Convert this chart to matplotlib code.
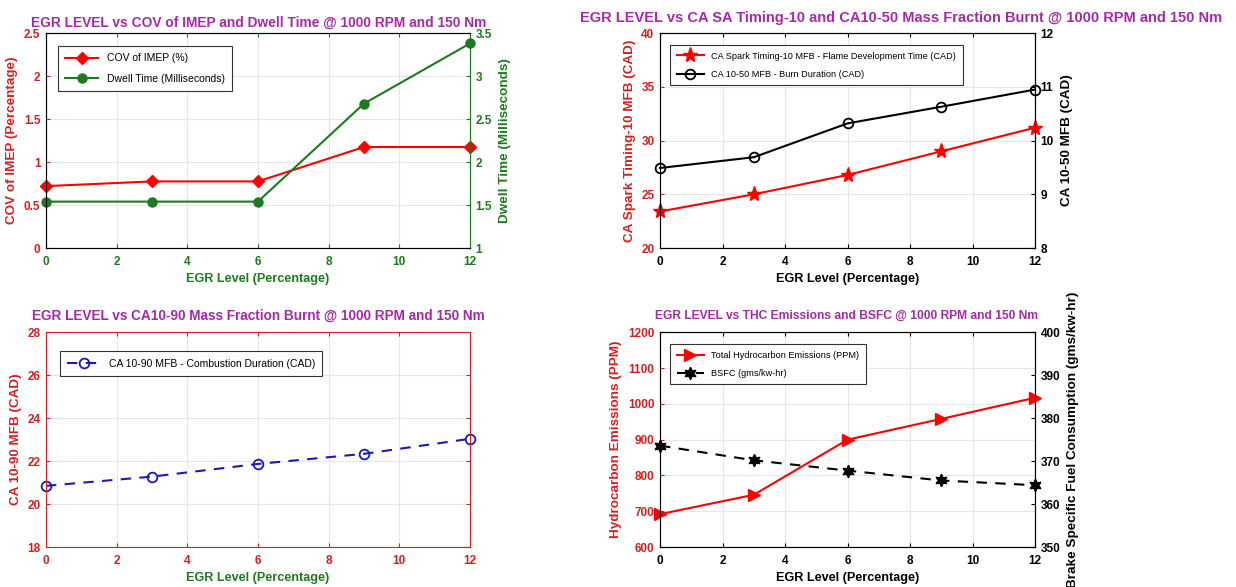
import matplotlib
matplotlib.use("Agg")
from matplotlib import pyplot as plt

plt.rcParams['font.family'] = ['Liberation Sans', 'DejaVu Sans']

# data
egr = [0, 3, 6, 9, 12]
cov_imep = [0.72, 0.775, 0.775, 1.175, 1.175]
dwell_ms = [1.54, 1.54, 1.54, 2.68, 3.38]
spark_10 = [23.4, 25.0, 26.8, 29.0, 31.2]
burn_10_50 = [9.49, 9.69, 10.32, 10.63, 10.95]
comb_10_90 = [20.85, 21.28, 21.87, 22.34, 23.04]
thc_ppm = [692, 746, 900, 958, 1017]
bsfc = [373.6, 370.2, 367.8, 365.5, 364.4]

RED = '#d42020'
GREEN = '#1e7a1e'
PURPLE = '#a52aa5'
TICK_FS = 8.5
XLAB_FS = 9.1
YLAB_FS = 9.7

fig = plt.figure(figsize=(12.36, 5.87), dpi=100)


def style_axes(ax, x_color, left_color, spine_color):
    ax.set_xlim(0, 12)
    ax.set_xticks(range(0, 13, 2))
    ax.grid(True, color='#e6e6e6', linewidth=0.8)
    ax.set_axisbelow(True)
    ax.tick_params(direction='in', top=True, length=3, labelsize=TICK_FS, pad=6)
    ax.tick_params(axis='x', colors=x_color)
    ax.tick_params(axis='y', colors=left_color, pad=4)
    for lab in ax.get_xticklabels() + ax.get_yticklabels():
        lab.set_fontweight('bold')
    for name, sp in ax.spines.items():
        sp.set_color(spine_color)
    ax.spines['left'].set_color(left_color)


def style_right(ax2, color):
    ax2.tick_params(direction='in', length=3, labelsize=TICK_FS, colors=color, pad=4)
    for lab in ax2.get_yticklabels():
        lab.set_fontweight('bold')
    ax2.spines['right'].set_color(color)


def legend(ax, handles, loc_anchor, fs, hl):
    leg = ax.legend(handles=handles, loc='upper left', bbox_to_anchor=loc_anchor,
                    fontsize=fs, fancybox=False, framealpha=1,
                    edgecolor='#333333', handlelength=hl, borderpad=0.7,
                    labelspacing=1.0)
    leg.get_frame().set_linewidth(0.8)
    return leg


# ---- top left ----
ax1 = fig.add_axes([0.0372, 0.5775, 0.343, 0.366])
l1, = ax1.plot(egr, cov_imep, color='red', marker='D', markersize=6.3,
               linewidth=1.5, clip_on=False, zorder=3, label='COV of IMEP (%)')
ax1.set_ylim(0, 2.5)
ax1.set_yticks([0, 0.5, 1, 1.5, 2, 2.5])
ax1.set_yticklabels(['0', '0.5', '1', '1.5', '2', '2.5'])
style_axes(ax1, GREEN, RED, GREEN)
ax1.set_xlabel('EGR Level (Percentage)', color=GREEN, fontsize=XLAB_FS,
               fontweight='bold', labelpad=3)
ax1.set_ylabel('COV of IMEP (Percentage)', color=RED, fontsize=YLAB_FS,
               fontweight='bold', labelpad=4)
ax1b = ax1.twinx()
l2, = ax1b.plot(egr, dwell_ms, color=GREEN, marker='o', markersize=6.5,
                linewidth=1.5, clip_on=False, label='Dwell Time (Milliseconds)')
ax1b.set_ylim(1, 3.5)
ax1b.set_yticks([1, 1.5, 2, 2.5, 3, 3.5])
ax1b.set_yticklabels(['1', '1.5', '2', '2.5', '3', '3.5'])
style_right(ax1b, GREEN)
ax1b.set_ylabel('Dwell Time (Milliseconds)', color=GREEN, fontsize=YLAB_FS,
                fontweight='bold', labelpad=5)
legend(ax1, [l1, l2], (0.015, 0.965), 7.5, 3.2)
fig.text(0.209, 0.962, 'EGR LEVEL vs COV of IMEP and Dwell Time @ 1000 RPM and 150 Nm',
         ha='center', va='center', color=PURPLE, fontsize=9.9, fontweight='bold')

# ---- top right ----
ax2 = fig.add_axes([0.534, 0.5775, 0.3034, 0.366])
l3, = ax2.plot(egr, spark_10, color='red', marker='*', markersize=11,
               linewidth=1.5, clip_on=False, zorder=3,
               label='CA Spark Timing-10 MFB - Flame Development Time (CAD)')
ax2.set_ylim(20, 40)
ax2.set_yticks(range(20, 41, 5))
style_axes(ax2, 'black', RED, 'black')
ax2.set_xlabel('EGR Level (Percentage)', color='black', fontsize=XLAB_FS,
               fontweight='bold', labelpad=3)
ax2.set_ylabel('CA Spark Timing-10 MFB (CAD)', color=RED, fontsize=YLAB_FS,
               fontweight='bold', labelpad=4)
ax2b = ax2.twinx()
l4, = ax2b.plot(egr, burn_10_50, color='black', marker='o', markersize=7,
                markerfacecolor='none', markeredgewidth=1.3, linewidth=1.5,
                clip_on=False, label='CA 10-50 MFB - Burn Duration (CAD)')
ax2b.set_ylim(8, 12)
ax2b.set_yticks(range(8, 13))
style_right(ax2b, 'black')
ax2b.set_ylabel('CA 10-50 MFB (CAD)', color='black', fontsize=YLAB_FS,
                fontweight='bold', labelpad=5)
legend(ax2, [l3, l4], (0.015, 0.965), 6.6, 3.0)
fig.text(0.729, 0.97, 'EGR LEVEL vs CA SA Timing-10 and CA10-50 Mass Fraction Burnt @ 1000 RPM and 150 Nm',
         ha='center', va='center', color=PURPLE, fontsize=10.5, fontweight='bold')

# ---- bottom left ----
ax3 = fig.add_axes([0.0372, 0.068, 0.343, 0.366])
l5, = ax3.plot(egr, comb_10_90, color='#1a1ab4', marker='o', markersize=7,
               markerfacecolor='none', markeredgewidth=1.3, linewidth=1.5,
               linestyle=(0, (5, 4)), clip_on=False,
               label='CA 10-90 MFB - Combustion Duration (CAD)')
ax3.set_ylim(18, 28)
ax3.set_yticks(range(18, 29, 2))
style_axes(ax3, RED, RED, RED)
ax3.tick_params(right=True, direction='in')
ax3.set_xlabel('EGR Level (Percentage)', color=GREEN, fontsize=XLAB_FS,
               fontweight='bold', labelpad=3)
ax3.set_ylabel('CA 10-90 MFB (CAD)', color=RED, fontsize=YLAB_FS,
               fontweight='bold', labelpad=4)
legend(ax3, [l5], (0.02, 0.935), 7.5, 3.2)
fig.text(0.209, 0.462, 'EGR LEVEL vs CA10-90 Mass Fraction Burnt @ 1000 RPM and 150 Nm',
         ha='center', va='center', color=PURPLE, fontsize=9.85, fontweight='bold')

# ---- bottom right ----
ax4 = fig.add_axes([0.534, 0.068, 0.3034, 0.366])
l6, = ax4.plot(egr, thc_ppm, color='red', marker='>', markersize=8,
               linewidth=1.5, clip_on=False, zorder=3,
               label='Total Hydrocarbon Emissions (PPM)')
ax4.set_ylim(600, 1200)
ax4.set_yticks(range(600, 1201, 100))
style_axes(ax4, 'black', RED, 'black')
ax4.set_xlabel('EGR Level (Percentage)', color='black', fontsize=XLAB_FS,
               fontweight='bold', labelpad=3)
ax4.set_ylabel('Hydrocarbon Emissions (PPM)', color=RED, fontsize=YLAB_FS,
               fontweight='bold', labelpad=4)
ax4b = ax4.twinx()
l7, = ax4b.plot(egr, bsfc, color='black', marker=(6, 1, 0), markersize=9,
                linewidth=1.5, linestyle=(0, (5, 4)), clip_on=False,
                label='BSFC (gms/kw-hr)')
ax4b.set_ylim(350, 400)
ax4b.set_yticks(range(350, 401, 10))
style_right(ax4b, 'black')
ax4b.set_ylabel('Brake Specific Fuel Consumption (gms/kw-hr)', color='black',
                fontsize=YLAB_FS, fontweight='bold', labelpad=5)
legend(ax4, [l6, l7], (0.015, 0.965), 6.6, 3.0)
fig.text(0.685, 0.462, 'EGR LEVEL vs THC Emissions and BSFC @ 1000 RPM and 150 Nm',
         ha='center', va='center', color=PURPLE, fontsize=8.65, fontweight='bold')

fig.savefig('out.png', dpi=100)
